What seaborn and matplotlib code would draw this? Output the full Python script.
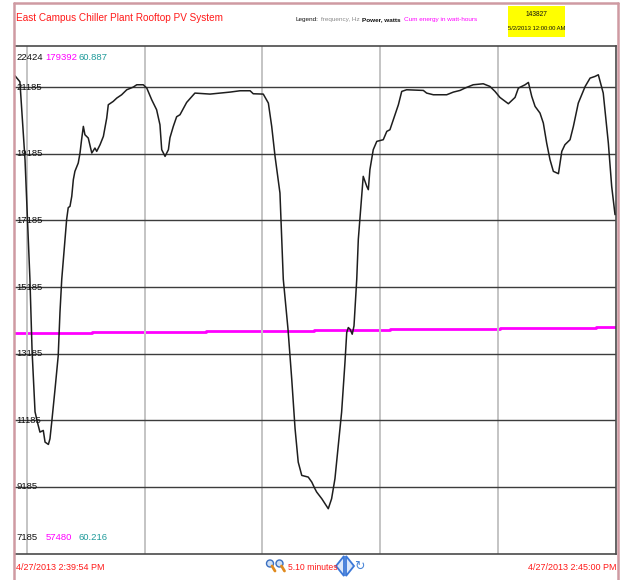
import matplotlib
matplotlib.use("Agg")
import matplotlib.pyplot as plt
import seaborn as sns
import pandas as pd
from matplotlib.patches import Circle, Polygon, Rectangle
from matplotlib.lines import Line2D

# Power readings (seconds after 2:39:54 PM, watts)
time_s = [0, 2.5, 5.1, 7.6, 8.7, 10.2, 11.4, 12.7, 14.4, 15.3,
          17.0, 17.8, 18.7, 20.4, 22.0, 22.9, 23.8, 25.5, 26.3, 27.1,
          28.0, 28.9, 29.7, 30.5, 32.2, 33.1, 33.9, 34.8, 35.6, 37.3,
          39.1, 40.7, 41.6, 43.3, 45.0, 46.7, 47.5, 50.0, 51.8, 54.3,
          56.9, 60.2, 62.0, 65.3, 67.1, 69.6, 72.1, 73.8, 74.7, 76.4,
          78.1, 78.9, 80.6, 82.3, 84.0, 87.4, 91.6, 99.3, 104.4, 109.5,
          114.6, 119.7, 121.3, 126.4, 129.0, 130.7, 132.4, 134.9, 136.6, 139.0,
          140.9, 142.6, 144.2, 146.0, 149.3, 151.1, 152.7, 153.6, 156.2, 159.5,
          161.2, 162.9, 164.6, 166.3, 168.0, 168.9, 169.7, 170.6, 171.7, 172.6,
          174.0, 174.8, 176.5, 177.3, 179.1, 179.9, 180.7, 182.4, 184.2, 187.5,
          189.3, 190.9, 192.6, 195.2, 196.9, 199.4, 207.9, 209.6, 213.0, 219.8,
          223.2, 226.6, 229.1, 233.3, 238.4, 241.8, 244.4, 246.9, 251.2, 254.6,
          256.3, 259.7, 261.4, 263.1, 264.8, 267.3, 269.0, 270.7, 272.4, 274.1,
          276.7, 278.4, 280.0, 282.6, 284.3, 286.8, 290.3, 292.8, 295.3, 297.0,
          299.5, 302.1, 303.8, 305.5]
power_w = [21530, 21350, 19010, 15420, 13260, 11440, 11130, 10830, 10880, 10530,
           10460, 10630, 11130, 12130, 13120, 14430, 15420, 16620, 17220, 17570,
           17610, 17910, 18410, 18660, 18910, 19210, 19610, 20010, 19760, 19660,
           19210, 19360, 19260, 19460, 19710, 20260, 20660, 20760, 20860, 20960,
           21110, 21190, 21260, 21260, 21160, 20810, 20510, 20060, 19310, 19110,
           19310, 19670, 20010, 20300, 20360, 20730, 21010, 20980, 21010, 21040,
           21080, 21080, 20990, 20980, 20710, 20010, 19110, 18010, 15420, 13920,
           12420, 10930, 9930, 9530, 9480, 9330, 9130, 9030, 8830, 8530,
           8830, 9430, 10430, 11430, 12920, 13820, 13970, 13920, 13770, 14020,
           15420, 16620, 17910, 18510, 18210, 18110, 18710, 19310, 19560, 19610,
           19860, 19910, 20210, 20660, 21060, 21110, 21090, 21010, 20960, 20960,
           21040, 21090, 21160, 21260, 21290, 21210, 21060, 20880, 20690, 20880,
           21160, 21260, 21330, 20910, 20610, 20410, 20110, 19510, 19010, 18660,
           18590, 19260, 19460, 19610, 20010, 20710, 21210, 21460, 21510, 21560,
           21010, 19510, 18210, 17360]

# Cumulative energy (watt-hours), stepped
energy_t = [0, 39, 66, 97, 152, 191, 247, 296, 306]
energy_wh = [110410, 110580, 110720, 110890, 111130, 111370, 111540, 111850, 111850]

# Scale limits shown at the corners
power_min, power_max = 7185, 22424
energy_min, energy_max = 57480, 179392
freq_min, freq_max = "60.216", "60.887"
power_grid = [9185, 11185, 13185, 15185, 17185, 19185, 21185]
minute_marks = [6, 66, 126, 186, 246]

title = "East Campus Chiller Plant Rooftop PV System"
legend_items = [("Legend:", "#111111", "normal"),
                ("frequency, Hz", "#8a8a8a", "normal"),
                ("Power, watts", "#111111", "bold"),
                ("Cum energy in watt-hours", "#ff00ff", "normal")]
start_label = "4/27/2013 2:39:54 PM"
end_label = "4/27/2013 2:45:00 PM"
span_label = "5.10 minutes"
box_value = "143827"
box_date = "5/2/2013 12:00:00 AM"

sns.set_style("white")
FONT = ["Liberation Sans Narrow", "Liberation Sans", "DejaVu Sans"]
plt.rcParams["font.family"] = FONT

W, H = 623, 580
fig = plt.figure(figsize=(W / 100, H / 100), dpi=100)
fig.patch.set_facecolor("white")

top_px, bot_px, left_px, right_px = 46, 553.5, 15, 616
ax = fig.add_axes([left_px / W, 1 - bot_px / H, (right_px - left_px) / W, (bot_px - top_px) / H])

power_df = pd.DataFrame({"t": time_s, "p": power_w})
energy_df = pd.DataFrame({"t": energy_t, "e": energy_wh})

ax.set_xlim(0, 306)
ax.set_ylim(power_min, power_max)
for m in minute_marks:
    ax.axvline(m, color="#c4c4c4", lw=1.4, zorder=1)
for g in power_grid:
    ax.axhline(g, color="#3c3c3c", lw=1.0, zorder=1)

# energy on its own hidden scale
ax2 = ax.twinx()
ax2.set_ylim(energy_min, energy_max)
sns.lineplot(data=energy_df, x="t", y="e", ax=ax2, color="#ff00ff", lw=2.0,
             drawstyle="steps-post", estimator=None, zorder=3)
ax2.set_axis_off()

sns.lineplot(data=power_df, x="t", y="p", ax=ax, color="#1e1e1e", lw=1.1,
             estimator=None, sort=False, zorder=4)
ax.set_zorder(ax2.get_zorder() + 1)
ax.patch.set_visible(False)

ax.set_xticks([])
ax.set_yticks([])
ax.set_xlabel("")
ax.set_ylabel("")
for side, sp in ax.spines.items():
    sp.set_color("#4a4a4a")
    sp.set_linewidth(1.2)
ax.spines["left"].set_visible(False)

# grid labels on the left edge
lab_fs = 6.8
tb = ax.get_yaxis_transform()
for g in power_grid:
    ax.text(0.002, g, str(g), transform=tb, ha="left", va="center",
            fontsize=lab_fs, color="#111111", family=FONT, zorder=6)

ax.text(0.002, 0.978, str(power_max), transform=ax.transAxes, ha="left", va="center",
        fontsize=lab_fs, color="#111111", family=FONT)
ax.text(0.051, 0.978, str(energy_max), transform=ax.transAxes, ha="left", va="center",
        fontsize=lab_fs, color="#ff00ff", family=FONT)
ax.text(0.106, 0.978, freq_max, transform=ax.transAxes, ha="left", va="center",
        fontsize=lab_fs, color="#1f9a9a", family=FONT)
ax.text(0.002, 0.031, str(power_min), transform=ax.transAxes, ha="left", va="center",
        fontsize=lab_fs, color="#111111", family=FONT)
ax.text(0.051, 0.031, str(energy_min), transform=ax.transAxes, ha="left", va="center",
        fontsize=lab_fs, color="#ff00ff", family=FONT)
ax.text(0.106, 0.031, freq_min, transform=ax.transAxes, ha="left", va="center",
        fontsize=lab_fs, color="#1f9a9a", family=FONT)

# overlay in pixel coordinates for the frame, header and footer
ov = fig.add_axes([0, 0, 1, 1], zorder=10)
ov.set_xlim(0, W)
ov.set_ylim(H, 0)
ov.set_axis_off()
ov.patch.set_visible(False)

frame = "#cf9aa2"
ov.add_line(Line2D([14, 14], [3, H], color=frame, lw=1.8))
ov.add_line(Line2D([14, 618], [3, 3], color=frame, lw=1.8))
ov.add_line(Line2D([618, 618], [3, H], color=frame, lw=1.8))

ov.text(16, 18, title, color="#ff1a1a", fontsize=7.2, ha="left", va="center", family=FONT)

# legend entries chained left to right
prev = ov.text(295, 20, legend_items[0][0], color=legend_items[0][1], fontsize=4.6,
               ha="left", va="center", family=FONT, fontweight=legend_items[0][2])
for txt, col, wt in legend_items[1:]:
    prev = ov.annotate(txt, xy=(1, 0.5), xycoords=prev, xytext=(2.0, 0),
                       textcoords="offset points", ha="left", va="center",
                       color=col, fontsize=4.6, family=FONT, fontweight=wt)

ov.add_patch(Rectangle((508, 6), 57, 31, facecolor="#ffff00", edgecolor="none"))
ov.text(536.5, 14, box_value, color="#111111", fontsize=4.8, ha="center", va="center", family=FONT)
ov.text(536.5, 28, box_date, color="#111111", fontsize=4.2, ha="center", va="center", family=FONT)

ov.text(16, 567, start_label, color="#ff1a1a", fontsize=6.5, ha="left", va="center", family=FONT)
ov.text(616, 567, end_label, color="#ff1a1a", fontsize=6.5, ha="right", va="center", family=FONT)
ov.text(288.5, 567, span_label, color="#ff1a1a", fontsize=6.2, ha="left", va="center", family=FONT)

# zoom in / zoom out icons
for cx in (270, 279.5):
    ov.add_line(Line2D([cx + 2, cx + 5], [566, 571], color="#e08a1e", lw=2.0,
                       solid_capstyle="round"))
    ov.add_patch(Circle((cx, 563.5), 3.5, facecolor="#cfe0f5", edgecolor="#3b6fc0", lw=1.0))
# scroll arrows
ov.add_patch(Polygon([[336, 566], [344, 556], [344, 576]], closed=True,
                     facecolor="#dbe8fa", edgecolor="#3b78d8", lw=1.3))
ov.add_patch(Polygon([[346, 556], [346, 576], [354, 566]], closed=True,
                     facecolor="#dbe8fa", edgecolor="#3b78d8", lw=1.3))
ov.text(359.5, 566, "\u21bb", color="#4a86d8", fontsize=9, ha="center", va="center",
        family=["DejaVu Sans"])

fig.savefig("out.png", dpi=100, facecolor="white")
